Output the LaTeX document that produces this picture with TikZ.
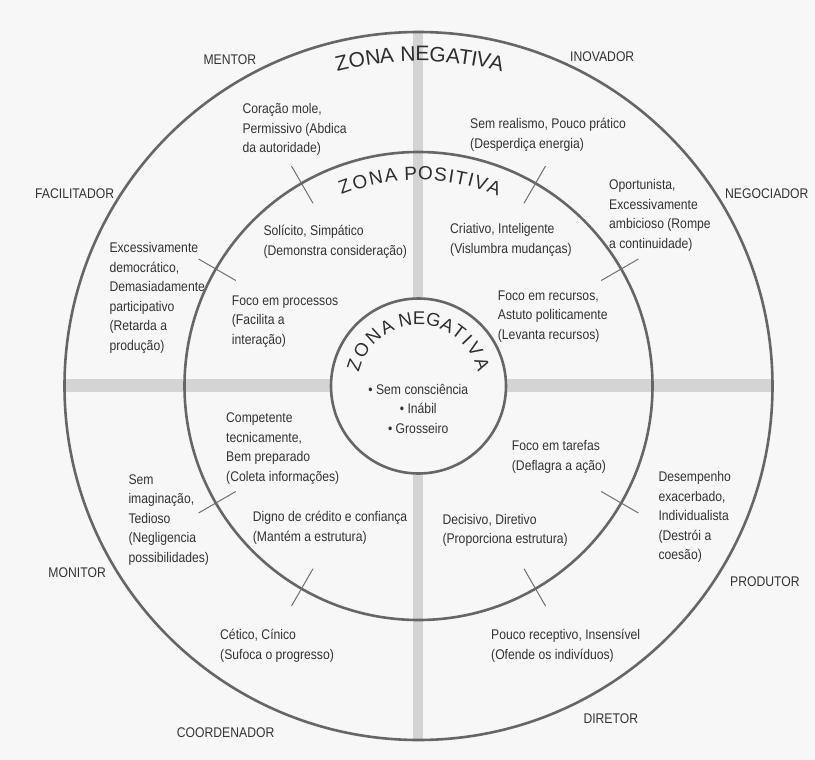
\documentclass[tikz,border=0pt]{standalone}
\usepackage{fontspec}
\setmainfont{Liberation Sans}[FakeStretch=0.87]
\newfontfamily\zonefont{Liberation Sans}
\definecolor{bg}{HTML}{F7F7F7}
\definecolor{ring}{HTML}{666666}
\definecolor{barfill}{HTML}{D4D4D4}
\definecolor{txt}{HTML}{333333}
\definecolor{ztxt}{HTML}{2E2E2E}
\definecolor{tickc}{HTML}{707070}
\newcommand\bodyfont{\fontsize{14}{19.5}\selectfont}

\begin{document}
\begin{tikzpicture}[x=1pt,y=-1pt,
  % multi-line label: placed by the left end of its first baseline
  lbl/.style={anchor=north west, inner sep=0pt, align=left, font=\bodyfont,
    text=txt, yshift=13.65pt},
  ringline/.style={draw=ring, line width=2.6pt},
  tickline/.style={draw=tickc, line width=1pt},
  zoneA/.style={anchor=base, inner sep=0pt, text=ztxt, font=\zonefont\fontsize{21}{21}\selectfont},
  zoneB/.style={anchor=base, inner sep=0pt, text=ztxt, font=\zonefont\fontsize{19}{19}\selectfont},
  zoneC/.style={anchor=base, inner sep=0pt, text=ztxt, font=\zonefont\fontsize{18.5}{18.5}\selectfont}]

% canvas
\fill[bg] (0,0) rectangle (815,760);
\useasboundingbox (0,0) rectangle (815,760);
\coordinate (c) at (418.5,386);

% grey cross behind the rings
\fill[barfill] (64.5,379) rectangle (772.5,392);
\fill[barfill] (413,32) rectangle (423,740);
\fill[bg] (c) circle[radius=87.5pt];

% the three rings
\draw[ringline] (c) circle[radius=354pt];
\draw[ringline] (c) circle[radius=234pt];
\draw[ringline] (c) circle[radius=87.5pt];

% curved zone titles and tick marks
\begin{scope}[shift={(418.5,386)}, y=1pt]
  \foreach \ch/\a [count=\i] in {Z/103.35,O/100.7,N/97.9,A/95.5,N/91.8,E/89.3,G/86.7,A/84.0,T/81.85,I/80.3,V/78.7,A/76.35}
    \node[zoneA, rotate=\a-90] (za\i) at (\a:325pt) {\ch};
  \foreach \ch/\a [count=\i] in {Z/110.35,O/106.0,N/101.6,A/97.5,P/92.1,O/88.1,S/84.0,I/81.1,T/78.45,I/75.7,V/72.85,A/69.05}
    \node[zoneB, rotate=\a-90] (zb\i) at (\a:206pt) {\ch};
  \foreach \ch/\a [count=\i] in {Z/162,O/147.5,N/132,A/118,N/101.5,E/89.5,G/77,A/64.5,T/53,I/43.5,V/33,A/19}
    \node[zoneC, rotate=\a-90] (zc\i) at (\a:61pt) {\ch};
  \foreach \a in {30,60,120,150,210,240,300,330}
    \draw[tickline] (\a:211pt) -- (\a:254pt);
\end{scope}

% roles around the outer ring
\node[lbl] (mentor) at (203.3,64.5) {\strut MENTOR};
\node[lbl] (inovador) at (570,61.2) {\strut INOVADOR};
\node[lbl] (facilitador) at (35,198.5) {\strut FACILITADOR};
\node[lbl] (negociador) at (725,197.8) {\strut NEGOCIADOR};
\node[lbl] (monitor) at (48.3,577.3) {\strut MONITOR};
\node[lbl] (produtor) at (730,585.8) {\strut PRODUTOR};
\node[lbl] (coordenador) at (176.7,737) {\strut COORDENADOR};
\node[lbl] (diretor) at (583.3,722.8) {\strut DIRETOR};

% outer (negative) zone
\node[lbl] (n1) at (242.3,113.3) {\strut Coração mole,\\Permissivo (Abdica\\da autoridade)};
\node[lbl] (n2) at (470,128.3) {\strut Sem realismo, Pouco prático\\(Desperdiça energia)};
\node[lbl] (n3) at (609,189.3) {\strut Oportunista,\\Excessivamente\\ambicioso (Rompe\\a continuidade)};
\node[lbl] (n4) at (109.3,252.7) {\strut Excessivamente\\democrático,\\Demasiadamente\\participativo\\(Retarda a\\produção)};
\node[lbl] (n5) at (128.3,484) {\strut Sem\\imaginação,\\Tedioso\\(Negligencia\\possibilidades)};
\node[lbl] (n6) at (658.3,481.7) {\strut Desempenho\\exacerbado,\\Individualista\\(Destrói a\\coesão)};
\node[lbl] (n7) at (220,639.3) {\strut Cético, Cínico\\(Sufoca o progresso)};
\node[lbl] (n8) at (491,639.3) {\strut Pouco receptivo, Insensível\\(Ofende os indivíduos)};

% middle (positive) zone
\node[lbl] (p1) at (263.3,235.7) {\strut Solícito, Simpático\\(Demonstra consideração)};
\node[lbl] (p2) at (450,233.3) {\strut Criativo, Inteligente\\(Vislumbra mudanças)};
\node[lbl] (p3) at (231.7,305) {\strut Foco em processos\\(Facilita a\\interação)};
\node[lbl] (p4) at (497.7,300) {\strut Foco em recursos,\\Astuto politicamente\\(Levanta recursos)};
\node[lbl] (p5) at (226,422.7) {\strut Competente\\tecnicamente,\\Bem preparado\\(Coleta informações)};
\node[lbl] (p6) at (511.7,450.7) {\strut Foco em tarefas\\(Deflagra a ação)};
\node[lbl] (p7) at (252.7,521.7) {\strut Digno de crédito e confiança\\(Mantém a estrutura)};
\node[lbl] (p8) at (442.3,524) {\strut Decisivo, Diretivo\\(Proporciona estrutura)};

% inner (negative) core
\node[lbl, anchor=north, align=center] (core) at (418.3,394) {\strut • Sem consciência\\• Inábil\\• Grosseiro};
\end{tikzpicture}
\end{document}
